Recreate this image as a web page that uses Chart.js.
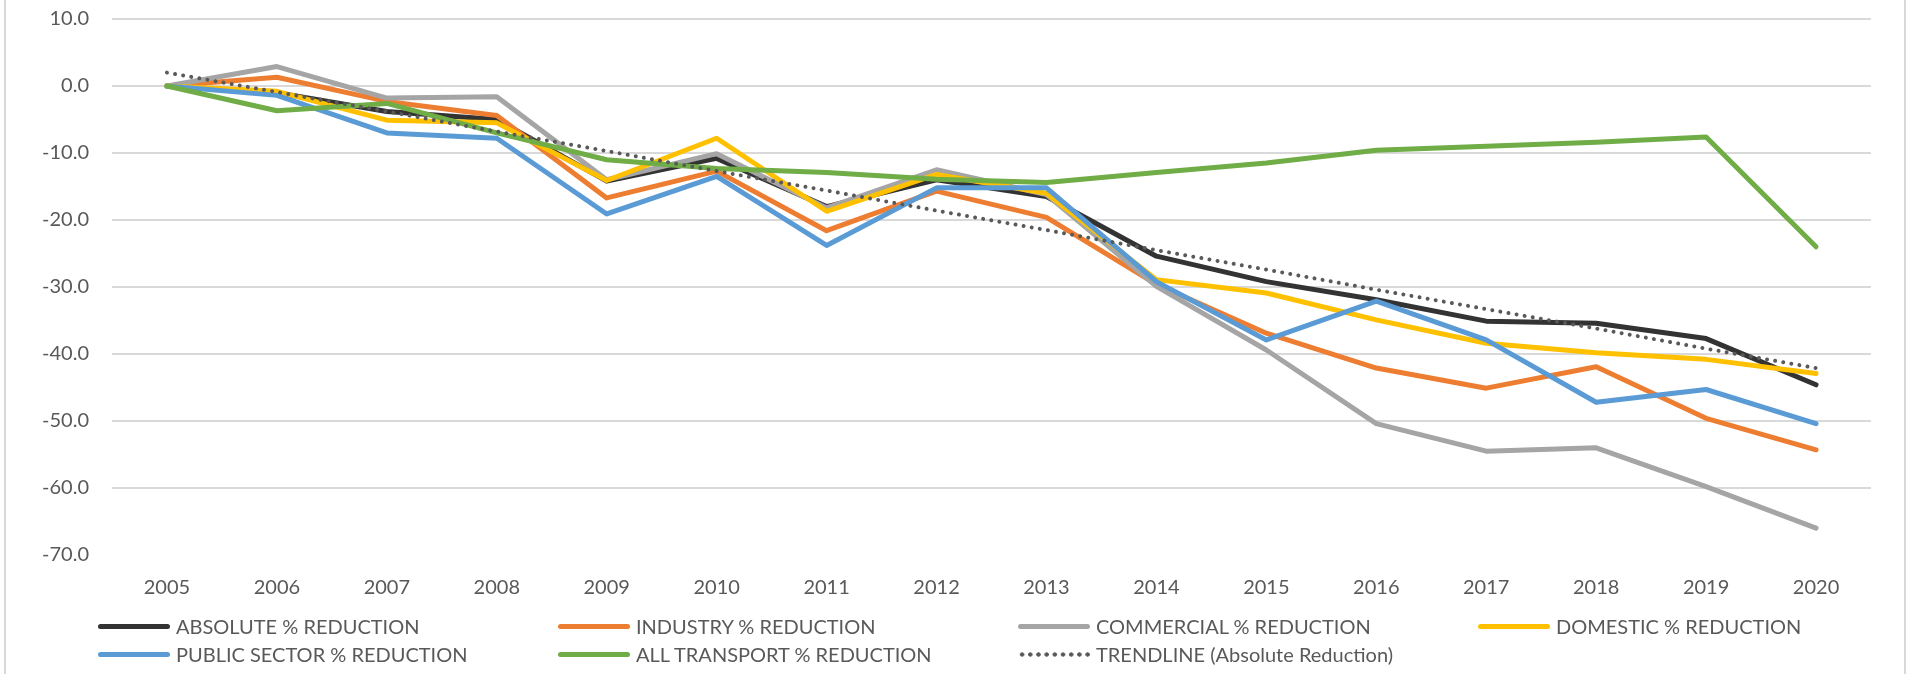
<!DOCTYPE html>
<html>
<head>
<meta charset="utf-8">
<title>% Reduction by sector</title>
<script src="https://cdn.jsdelivr.net/npm/chart.js@4.4.1/dist/chart.umd.min.js"></script>
<style>
  html, body { margin: 0; padding: 0; background: #fff; }
  #wrap { position: relative; width: 1908px; height: 674px; overflow: hidden; }
  #wrap .edge { position: absolute; top: 0; bottom: 0; width: 2px; background: #d9d9d9; }
  #chart { position: absolute; left: 0; top: 0; }
  #legend {
    position: absolute; left: 98px; top: 612px;
    display: grid; grid-template-columns: repeat(4, 460px); grid-auto-rows: 28px;
    font-family: Lato, sans-serif; font-size: 20px; color: #595959;
  }
  .item { display: flex; align-items: center; white-space: nowrap; }
  .swatch { width: 72px; height: 5px; border-radius: 3px; margin-right: 6px; flex: none; }
  .swatch.dots {
    height: 5px; border-radius: 0;
    background: radial-gradient(circle, #595959 1.9px, transparent 2.4px) 0 0 / 8.2px 5px repeat-x;
  }
</style>
</head>
<body>
<div id="wrap">
  <div class="edge" style="left:4px"></div>
  <div class="edge" style="left:1904px"></div>
  <canvas id="chart" width="1908" height="674"></canvas>
  <div id="legend"></div>
</div>
<script>
// data
const years = ['2005','2006','2007','2008','2009','2010','2011','2012','2013','2014','2015','2016','2017','2018','2019','2020'];

const absoluteReduction   = [0, -1.0, -3.8, -5.0, -14.2, -10.8, -18.0, -14.0, -16.5, -25.4, -29.2, -31.9, -35.1, -35.4, -37.7, -44.6];
const industryReduction   = [0, 1.3, -2.3, -4.4, -16.7, -12.7, -21.6, -15.7, -19.6, -29.6, -36.9, -42.1, -45.1, -41.9, -49.6, -54.3];
const commercialReduction = [0, 2.9, -1.8, -1.6, -14.0, -10.1, -18.2, -12.5, -16.2, -29.9, -39.4, -50.4, -54.5, -54.0, -59.8, -66.0];
const domesticReduction   = [0, -0.8, -5.1, -5.5, -14.1, -7.8, -18.7, -13.2, -16.0, -28.9, -30.9, -34.9, -38.4, -39.8, -40.8, -42.9];
const publicReduction     = [0, -1.4, -7.0, -7.8, -19.1, -13.5, -23.8, -15.2, -15.2, -29.2, -37.9, -32.1, -37.9, -47.2, -45.3, -50.4];
const transportReduction  = [0, -3.7, -2.6, -7.0, -11.0, -12.3, -12.9, -13.9, -14.4, -12.9, -11.5, -9.6, -9.0, -8.4, -7.6, -24.0];
const trendline           = [2.0, -0.9, -3.8, -6.8, -9.7, -12.7, -15.6, -18.6, -21.5, -24.5, -27.4, -30.4, -33.3, -36.2, -39.2, -42.1];

const yMin = -70;
const yMax = 10;
const yStep = 10;

const seriesNames = [
  'ABSOLUTE % REDUCTION', 'INDUSTRY % REDUCTION', 'COMMERCIAL % REDUCTION', 'DOMESTIC % REDUCTION',
  'PUBLIC SECTOR % REDUCTION', 'ALL TRANSPORT % REDUCTION', 'TRENDLINE (Absolute Reduction)'
];
const seriesColors = ['#333333', '#ED7D31', '#A5A5A5', '#FFC000', '#5B9BD5', '#70AD47', '#595959'];
const seriesData = [absoluteReduction, industryReduction, commercialReduction, domesticReduction,
  publicReduction, transportReduction, trendline];

const datasets = seriesData.map((data, i) => {
  const isTrend = i === seriesData.length - 1;
  return {
    label: seriesNames[i],
    data,
    borderColor: seriesColors[i],
    backgroundColor: seriesColors[i],
    borderWidth: isTrend ? 4 : 5,
    borderDash: isTrend ? [0.01, 8.2] : [],
    borderCapStyle: 'round',
    borderJoinStyle: 'round',
    pointRadius: 0,
    tension: 0,
    fill: false,
    // later series sit on top, like the spreadsheet
    order: seriesData.length - 1 - i
  };
});

const tickFont = { family: 'Lato, sans-serif', size: 20 };

const chart = new Chart(document.getElementById('chart'), {
  type: 'line',
  data: { labels: years, datasets },
  options: {
    responsive: false,
    animation: false,
    layout: { padding: { top: 19, right: 37, bottom: 69, left: 0 } },
    plugins: { legend: { display: false }, tooltip: { enabled: false } },
    scales: {
      x: {
        offset: true,
        grid: { display: false, drawTicks: false },
        border: { display: false },
        ticks: { color: '#595959', font: tickFont, padding: 21, maxRotation: 0 },
        afterFit: s => { s.height = 50; }
      },
      y: {
        min: yMin, max: yMax,
        grid: {
          // invisible tick marks make the gap between labels and plot
          drawTicks: true, tickLength: 23, tickColor: 'rgba(0,0,0,0)', lineWidth: 2,
          color: c => (c.tick && c.tick.value === yMin) ? 'rgba(0,0,0,0)' : '#d9d9d9'
        },
        border: { display: false },
        ticks: {
          stepSize: yStep, color: '#595959', font: tickFont, padding: 0,
          callback: v => Number(v).toFixed(1)
        },
        afterFit: s => { s.width = 112; }
      }
    }
  }
});

// legend in four fixed columns, built from the chart's datasets
const legendEl = document.getElementById('legend');
chart.data.datasets.forEach((ds, i) => {
  const item = document.createElement('div');
  item.className = 'item';
  const sw = document.createElement('span');
  sw.className = 'swatch' + (i === seriesData.length - 1 ? ' dots' : '');
  if (i !== seriesData.length - 1) sw.style.background = ds.borderColor;
  const txt = document.createElement('span');
  txt.textContent = ds.label;
  item.appendChild(sw);
  item.appendChild(txt);
  legendEl.appendChild(item);
});
</script>
</body>
</html>
